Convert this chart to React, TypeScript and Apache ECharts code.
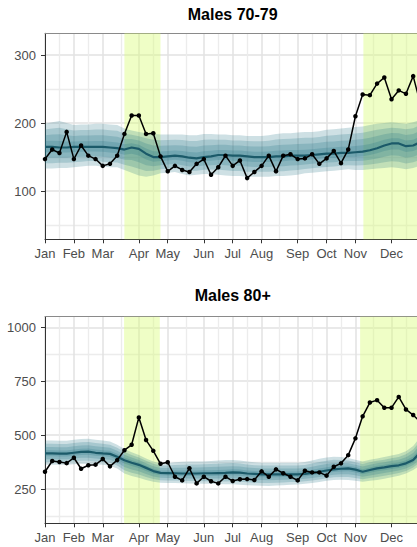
import React, { useEffect, useRef } from "react";
import * as echarts from "echarts";

const monthLabels = ["Jan", "Feb", "Mar", "Apr", "May", "Jun", "Jul", "Aug", "Sep", "Oct", "Nov", "Dec"];
const monthWeeks = [0, 4, 8, 13, 17, 22, 26, 30, 35, 39, 43, 48];
const minorWeeks = [2, 6, 10.5, 15, 19.5, 24, 28, 32.5, 37, 41, 45.5, 50];

// Males 70-79 (weekly, weeks 0..52)
const obs70 = [147, 161, 156, 187, 147, 167, 152, 147, 137, 140, 152, 184, 211, 211, 184, 185, 151, 129, 137, 131, 128, 140, 147, 124, 135, 152, 137, 145, 119, 128, 137, 152, 129, 152, 154, 147, 148, 154, 140, 148, 159, 141, 161, 210, 242, 241, 258, 267, 235, 248, 243, 269, 228];
const med70 = [165, 165, 164, 164, 165, 165, 165, 165, 165, 164, 163, 161, 164, 162, 155, 150, 150, 151, 152, 151, 149, 148, 150, 151, 153, 153, 152, 152, 151, 150, 150, 150, 151, 151, 152, 152, 152, 153, 154, 155, 155, 156, 156, 157, 158, 160, 163, 167, 170, 170, 166, 167, 172];
const hi70 = [199, 201, 203, 200, 197, 198, 198, 199, 199, 198, 197, 192, 189, 187, 185, 184, 183, 183, 183, 183, 182, 182, 184, 184, 183, 183, 182, 182, 181, 181, 181, 182, 184, 185, 185, 186, 187, 187, 188, 190, 191, 192, 193, 194, 195, 197, 199, 200, 201, 200, 199, 201, 205];
const lo70 = [133, 133, 134, 134, 135, 136, 137, 137, 136, 135, 135, 131, 127, 123, 121, 123, 126, 127, 128, 125, 123, 124, 125, 125, 124, 123, 122, 122, 121, 121, 121, 121, 122, 122, 123, 124, 126, 127, 128, 129, 130, 131, 132, 131, 131, 132, 133, 134, 135, 134, 132, 134, 137];
const shade70 = [[11, 16], [44.1, 52]];
const yTicks70 = [100, 200, 300];
const yMinor70 = [50, 150, 250];

// Males 80+
const obs80 = [330, 380, 375, 370, 395, 344, 360, 363, 389, 355, 384, 430, 455, 582, 477, 427, 367, 374, 307, 290, 346, 276, 307, 286, 276, 307, 287, 295, 296, 292, 332, 307, 341, 323, 307, 290, 335, 327, 327, 312, 353, 369, 407, 485, 587, 651, 662, 627, 627, 677, 619, 593, 560];
const med80 = [415, 415, 414, 414, 418, 422, 423, 418, 415, 413, 400, 383, 372, 362, 348, 333, 325, 324, 323, 322, 322, 322, 323, 323, 324, 325, 327, 326, 322, 320, 318, 318, 318, 318, 318, 318, 320, 325, 330, 336, 341, 344, 346, 340, 330, 338, 346, 350, 356, 360, 369, 385, 420];
const hi80 = [475, 475, 474, 474, 478, 482, 483, 478, 475, 470, 455, 435, 420, 408, 392, 378, 370, 370, 374, 376, 378, 378, 378, 380, 382, 384, 385, 382, 378, 374, 372, 372, 372, 372, 372, 372, 375, 382, 390, 396, 400, 398, 394, 386, 378, 386, 392, 398, 405, 412, 425, 450, 490];
const lo80 = [362, 362, 362, 362, 365, 367, 367, 364, 362, 358, 345, 322, 310, 302, 292, 284, 279, 278, 278, 277, 276, 275, 274, 274, 273, 272, 272, 270, 268, 266, 265, 264, 266, 268, 270, 271, 274, 278, 282, 288, 292, 293, 292, 288, 284, 288, 292, 298, 305, 312, 322, 338, 360];
const shade80 = [[10.95, 15.9], [43.65, 52]];
const yTicks80 = [250, 500, 750, 1000];
const yMinor80 = [125, 375, 625, 875];

const bandLevels = [1, 0.75, 0.5, 0.25];

const FONT = '"Liberation Sans", Arial, Helvetica, sans-serif';

type Panel = {
  title: string;
  obs: number[];
  med: number[];
  hi: number[];
  lo: number[];
  shade: number[][];
  yTicks: number[];
  yMinor: number[];
  yMin: number;
  yMax: number;
  top: number;
  height: number;
};

const panels: Panel[] = [
  { title: "Males 70-79", obs: obs70, med: med70, hi: hi70, lo: lo70, shade: shade70, yTicks: yTicks70, yMinor: yMinor70, yMin: 29, yMax: 332, top: 33.3, height: 206 },
  { title: "Males 80+", obs: obs80, med: med80, hi: hi80, lo: lo80, shade: shade80, yTicks: yTicks80, yMinor: yMinor80, yMin: 91, yMax: 1049, top: 316.7, height: 206.6 },
];

const GRID_LEFT = 45;
const GRID_WIDTH = 375.4;

function buildOption() {
  const grid: any[] = [];
  const xAxis: any[] = [];
  const yAxis: any[] = [];
  const series: any[] = [];
  const graphic: any[] = [];

  panels.forEach((p, i) => {
    grid.push({ left: GRID_LEFT, top: p.top, width: GRID_WIDTH, height: p.height, outerBoundsMode: "none", containLabel: false });
    const xi = i * 2;
    const yi = i * 2;
    xAxis.push({
      type: "value", gridIndex: i, min: 0, max: 52, position: "bottom",
      axisLine: { show: true, onZero: false, lineStyle: { color: "#333333", width: 1 } },
      axisTick: { show: true, customValues: monthWeeks, length: 4, lineStyle: { color: "#333333", width: 1 } },
      axisLabel: {
        show: true, customValues: monthWeeks, fontSize: 13, color: "#4d4d4d", margin: 8, fontFamily: FONT,
        formatter: (v: number) => { const k = monthWeeks.indexOf(v); return k >= 0 ? monthLabels[k] : ""; },
      },
      splitLine: { show: true, lineStyle: { color: "#e2e2e2", width: 1.5 } },
    });
    xAxis.push({
      type: "value", gridIndex: i, min: 0, max: 52, position: "top",
      axisLine: { show: true, onZero: false, lineStyle: { color: "#8a8a8a", width: 1 } },
      axisTick: { show: false, customValues: minorWeeks },
      axisLabel: { show: false },
      splitLine: { show: true, lineStyle: { color: "#ececec", width: 1.3 } },
    });
    yAxis.push({
      type: "value", gridIndex: i, min: p.yMin, max: p.yMax, position: "left",
      axisLine: { show: true, onZero: false, lineStyle: { color: "#333333", width: 1 } },
      axisTick: { show: true, customValues: p.yTicks, length: 4, lineStyle: { color: "#333333", width: 1 } },
      axisLabel: {
        show: true, customValues: p.yTicks, fontSize: 13, color: "#4d4d4d", margin: 9, fontFamily: FONT,
        formatter: (v: number) => String(v),
      },
      splitLine: { show: true, lineStyle: { color: "#e2e2e2", width: 1.5 } },
    });
    yAxis.push({
      type: "value", gridIndex: i, min: p.yMin, max: p.yMax, position: "right",
      axisLine: { show: false },
      axisTick: { show: false, customValues: p.yMinor },
      axisLabel: { show: false },
      splitLine: { show: true, lineStyle: { color: "#ececec", width: 1.3 } },
    });

    const xa = xi, ya = yi;
    // shaded periods
    series.push({
      type: "line", xAxisIndex: xa, yAxisIndex: ya, silent: true, z: 1,
      data: p.obs.map((v, w) => [w, v]), symbol: "none", lineStyle: { opacity: 0, width: 0 },
      markArea: {
        silent: true,
        itemStyle: { color: "rgba(218,252,118,0.42)" },
        data: p.shade.map(([a, b]) => [{ xAxis: a }, { xAxis: b }]),
      },
    });
    // quantile bands as polygons through the axis scales
    const bandsLower = bandLevels.map((f) => p.med.map((m, w) => m - f * (m - p.lo[w])));
    const bandsUpper = bandLevels.map((f) => p.med.map((m, w) => m + f * (p.hi[w] - m)));
    series.push({
      type: "custom", xAxisIndex: xa, yAxisIndex: ya, silent: true, z: 2, clip: true,
      data: bandLevels.map(() => [0, p.med[0]]),
      renderItem: (params: any, api: any) => {
        const k = params.dataIndex;
        const up = bandsUpper[k].map((v, w) => api.coord([w, v]));
        const dn = bandsLower[k].map((v, w) => api.coord([w, v])).reverse();
        return {
          type: "polygon",
          shape: { points: up.concat(dn) },
          style: { fill: "rgba(30,112,132,0.22)", stroke: "none" },
        };
      },
    });
    // median
    series.push({
      type: "line", xAxisIndex: xa, yAxisIndex: ya, silent: true, z: 3,
      data: p.med.map((v, w) => [w, v]), symbol: "none",
      lineStyle: { color: "#1b5a69", width: 2.2 },
    });
    // observed
    series.push({
      type: "line", xAxisIndex: xa, yAxisIndex: ya, silent: true, z: 4,
      data: p.obs.map((v, w) => [w, v]), symbol: "circle", symbolSize: 4.5, showSymbol: true,
      itemStyle: { color: "#000000" },
      lineStyle: { color: "#000000", width: 1.5 },
    });

    graphic.push({
      type: "text", x: GRID_LEFT + GRID_WIDTH / 2, y: i === 0 ? 14 : 295.5,
      style: {
        text: p.title, fontSize: 16, fontWeight: "bold", fontFamily: FONT, fill: "#000000",
        align: "center", verticalAlign: "middle", textAlign: "center", textVerticalAlign: "middle",
      },
    });
  });

  return { animation: false, grid, xAxis, yAxis, series, graphic };
}

export default function App() {
  const ref = useRef<HTMLDivElement>(null);
  useEffect(() => {
    if (!ref.current) return;
    const chart = echarts.init(ref.current, undefined, { renderer: "svg" });
    chart.setOption(buildOption() as any);
    return () => chart.dispose();
  }, []);
  return (
    <div
      ref={ref}
      style={{ position: "fixed", left: 0, top: 0, width: 417, height: 547, background: "#ffffff" }}
    />
  );
}
